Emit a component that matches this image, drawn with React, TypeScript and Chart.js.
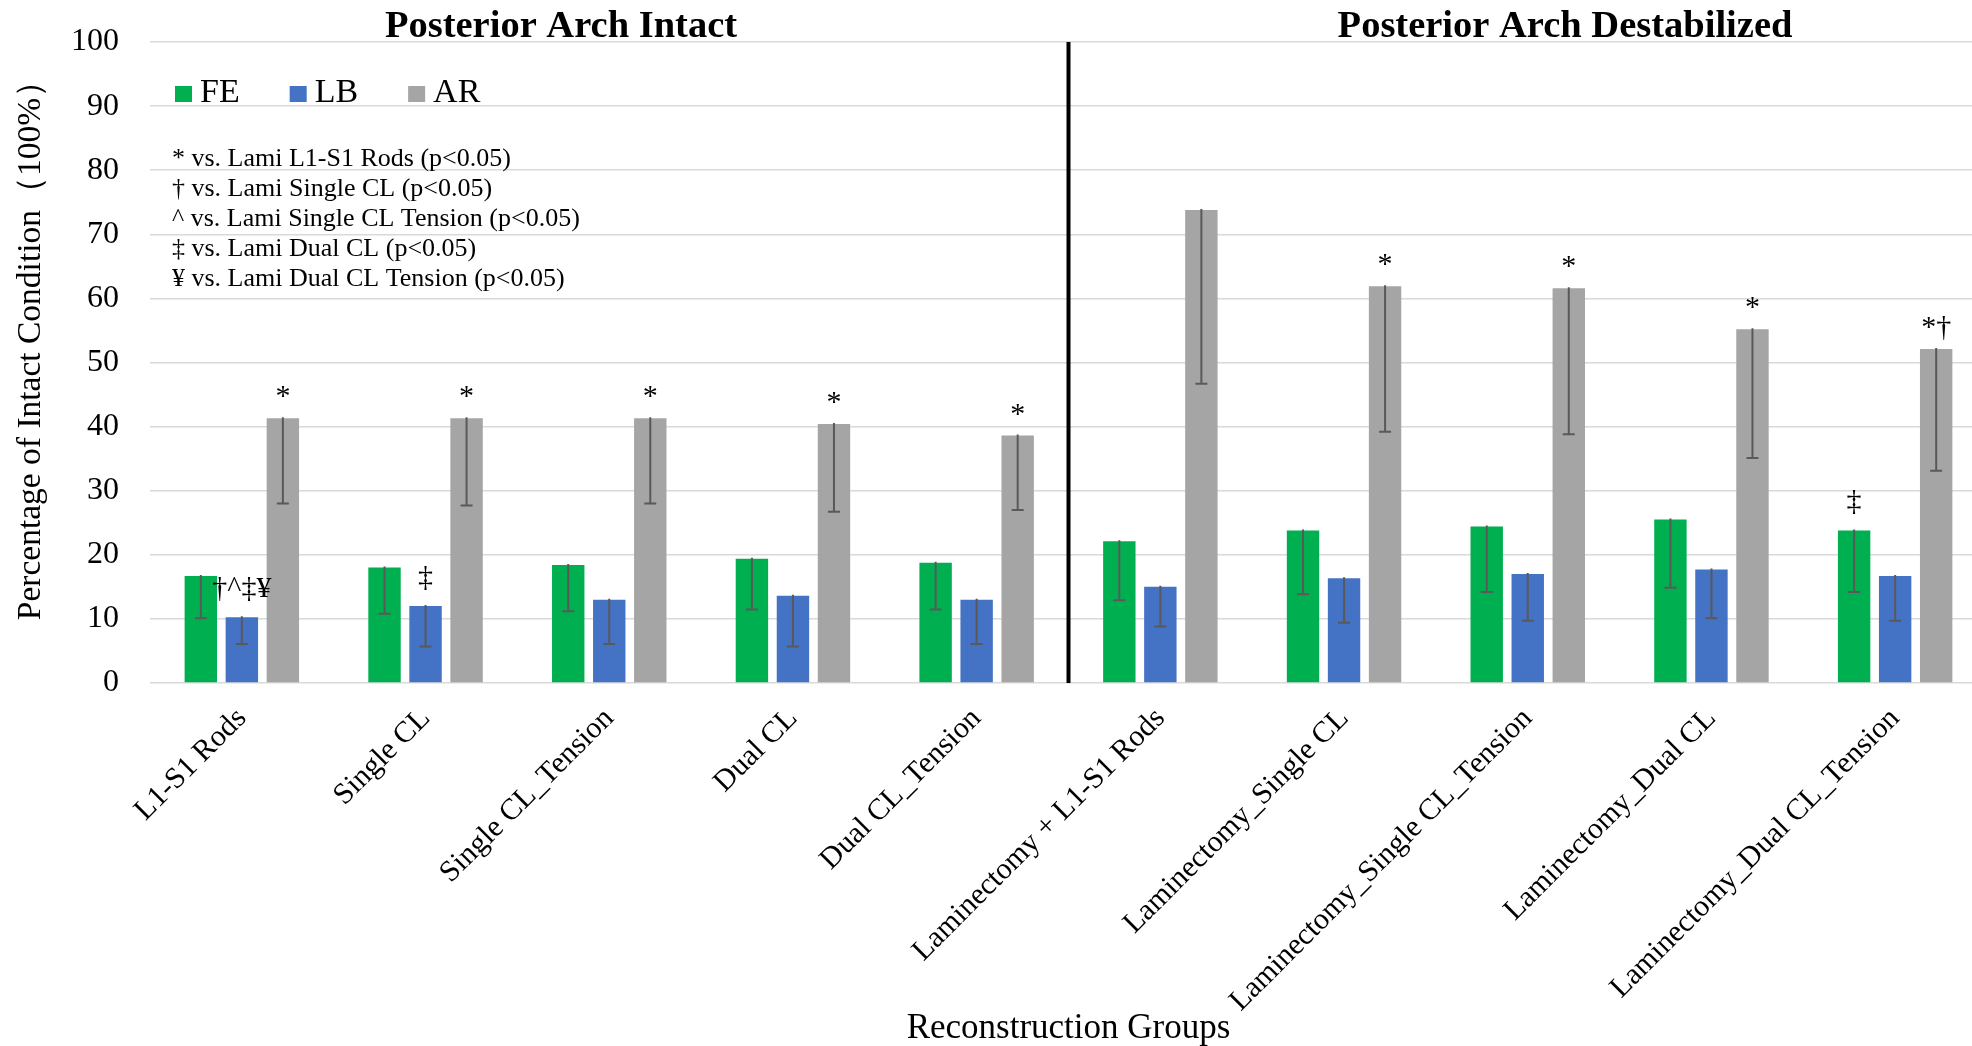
import React, { useEffect, useRef } from 'react';
import { Chart, registerables } from 'chart.js';

Chart.register(...registerables);

// ---------------- data ----------------
const CATEGORIES = [
  'L1-S1 Rods',
  'Single CL',
  'Single CL_Tension',
  'Dual CL',
  'Dual CL_Tension',
  'Laminectomy + L1-S1 Rods',
  'Laminectomy_Single CL',
  'Laminectomy_Single CL_Tension',
  'Laminectomy_Dual CL',
  'Laminectomy_Dual CL_Tension',
];

const SERIES_NAMES = ['FE', 'LB', 'AR'];

const FE_VALUES = [16.7, 18.0, 18.4, 19.4, 18.75, 22.1, 23.8, 24.4, 25.5, 23.8];
const FE_ERRORS = [6.6, 7.2, 7.2, 7.95, 7.3, 9.2, 9.95, 10.2, 10.65, 9.6];

const LB_VALUES = [10.25, 12.0, 13.0, 13.6, 13.0, 15.0, 16.35, 17.0, 17.7, 16.7];
const LB_ERRORS = [4.15, 6.3, 6.9, 7.9, 6.9, 6.2, 6.95, 7.3, 7.6, 7.0];

const AR_VALUES = [41.3, 41.3, 41.3, 40.4, 38.6, 73.8, 61.9, 61.6, 55.2, 52.1];
const AR_ERRORS = [13.3, 13.6, 13.3, 13.7, 11.6, 27.1, 22.7, 22.8, 20.1, 19.0];

const FE_MARKS = ['', '', '', '', '', '', '', '', '', '‡'];
const LB_MARKS = ['†^‡¥', '‡', '', '', '', '', '', '', '', ''];
const AR_MARKS = ['*', '*', '*', '*', '*', '', '*', '*', '*', '*†'];

const Y_MIN = 0;
const Y_MAX = 100;
const Y_STEP = 10;

const SIG_NOTES = [
  '* vs. Lami L1-S1 Rods (p<0.05)',
  '† vs. Lami Single CL (p<0.05)',
  '^ vs. Lami Single CL Tension (p<0.05)',
  '‡ vs. Lami Dual CL (p<0.05)',
  '¥ vs. Lami Dual CL Tension (p<0.05)',
];

const GROUP_TITLES = ['Posterior Arch Intact', 'Posterior Arch Destabilized'];
const Y_TITLE = 'Percentage of Intact Condition（100%）';
const X_TITLE = 'Reconstruction Groups';

const COLORS = ['#00B050', '#4472C4', '#A5A5A5'];
const SERIF = "'Liberation Serif', 'Times New Roman', serif";

const CANVAS_W = 2010;
const CANVAS_H = 1046;

const overlayPlugin = {
  id: 'overlay',
  afterDatasetsDraw(chart: any) {
    const ctx = chart.ctx;
    const yScale = chart.scales.y;
    const xScale = chart.scales.x;
    const errs = [FE_ERRORS, LB_ERRORS, AR_ERRORS];
    const marks = [FE_MARKS, LB_MARKS, AR_MARKS];
    ctx.save();
    // error bars (minus direction)
    chart.data.datasets.forEach((ds: any, di: number) => {
      const meta = chart.getDatasetMeta(di);
      meta.data.forEach((bar: any, i: number) => {
        const v = ds.data[i];
        const low = yScale.getPixelForValue(v - errs[di][i]);
        ctx.strokeStyle = '#595959';
        ctx.lineWidth = 2;
        ctx.beginPath();
        ctx.moveTo(bar.x, bar.y - 1);
        ctx.lineTo(bar.x, low);
        ctx.moveTo(bar.x - 6, low);
        ctx.lineTo(bar.x + 6, low);
        ctx.stroke();
      });
    });
    // significance marks
    ctx.fillStyle = '#000';
    ctx.font = `30px ${SERIF}`;
    ctx.textAlign = 'center';
    ctx.textBaseline = 'alphabetic';
    chart.data.datasets.forEach((ds: any, di: number) => {
      const meta = chart.getDatasetMeta(di);
      meta.data.forEach((bar: any, i: number) => {
        const t = marks[di][i];
        if (!t) return;
        const lift = t.startsWith('*') ? 13 : 20;
        ctx.fillText(t, bar.x, bar.y - lift);
      });
    });
    // divider between the two groups
    const xd = (xScale.getPixelForValue(4) + xScale.getPixelForValue(5)) / 2;
    ctx.strokeStyle = '#000';
    ctx.lineWidth = 4;
    ctx.beginPath();
    ctx.moveTo(xd, yScale.getPixelForValue(Y_MAX));
    ctx.lineTo(xd, yScale.getPixelForValue(Y_MIN));
    ctx.stroke();
    ctx.restore();
  },
  afterDraw(chart: any) {
    const ctx = chart.ctx;
    ctx.save();
    ctx.fillStyle = '#000';
    ctx.textBaseline = 'alphabetic';
    // group titles
    ctx.font = `bold 38.5px ${SERIF}`;
    ctx.textAlign = 'center';
    ctx.fillText(GROUP_TITLES[0], 561, 37);
    ctx.fillText(GROUP_TITLES[1], 1565, 37);
    // y axis title
    ctx.save();
    ctx.translate(31, 342);
    ctx.rotate(-Math.PI / 2);
    ctx.font = `33.5px ${SERIF}`;
    ctx.textAlign = 'center';
    ctx.textBaseline = 'middle';
    ctx.fillText(Y_TITLE, 0, 0);
    ctx.restore();
    // legend
    ctx.font = `34px ${SERIF}`;
    ctx.textAlign = 'left';
    let x = 175;
    SERIES_NAMES.forEach((name, i) => {
      ctx.fillStyle = COLORS[i];
      ctx.fillRect(x, 86, 17, 16);
      ctx.fillStyle = '#000';
      ctx.fillText(name, x + 25, 102);
      x += 25 + ctx.measureText(name).width + 50;
    });
    // significance notes
    ctx.font = `26px ${SERIF}`;
    SIG_NOTES.forEach((n, i) => {
      ctx.fillText(n, 172, 166 + i * 30);
    });
    ctx.restore();
  },
};

export default function App() {
  const ref = useRef<HTMLCanvasElement | null>(null);
  useEffect(() => {
    document.body.style.margin = '0';
    document.body.style.overflow = 'hidden';
    const canvas = ref.current;
    if (!canvas) return;
    const chart = new Chart(canvas, {
      type: 'bar',
      data: {
        labels: CATEGORIES,
        datasets: [
          { label: SERIES_NAMES[0], data: FE_VALUES, backgroundColor: COLORS[0] },
          { label: SERIES_NAMES[1], data: LB_VALUES, backgroundColor: COLORS[1] },
          { label: SERIES_NAMES[2], data: AR_VALUES, backgroundColor: COLORS[2] },
        ],
      },
      options: {
        responsive: false,
        animation: false,
        devicePixelRatio: 1,
        layout: { padding: { top: 42, right: CANVAS_W - 1987, left: 0, bottom: 0 } },
        datasets: { bar: { categoryPercentage: 0.67, barPercentage: 0.79 } },
        plugins: {
          legend: { display: false },
          tooltip: { enabled: false },
          title: { display: false },
        },
        scales: {
          x: {
            grid: { display: false, drawTicks: false },
            border: { display: false },
            ticks: {
              autoSkip: false,
              maxRotation: 45,
              minRotation: 45,
              padding: 18,
              color: '#000',
              font: { family: SERIF, size: 30 },
            },
            title: {
              display: true,
              text: X_TITLE,
              color: '#000',
              padding: 0,
              font: { family: SERIF, size: 35, lineHeight: 1 },
            },
            afterFit: (s: any) => {
              s.height = CANVAS_H - 683;
            },
          },
          y: {
            min: Y_MIN,
            max: Y_MAX,
            grid: { color: '#D9D9D9', lineWidth: 1.5, drawTicks: false },
            border: { display: false },
            ticks: {
              stepSize: Y_STEP,
              padding: 31,
              color: '#000',
              font: { family: SERIF, size: 32 },
            },
            title: { display: false },
            afterFit: (s: any) => {
              s.width = 150;
              s.paddingTop = 0;
              s.paddingBottom = 0;
            },
          },
        },
      },
      plugins: [overlayPlugin],
    });
    return () => chart.destroy();
  }, []);
  return (
    <div
      style={{
        position: 'absolute',
        left: 0,
        top: 0,
        width: 1972,
        height: CANVAS_H,
        overflow: 'hidden',
        background: '#fff',
      }}
    >
      <canvas ref={ref} width={CANVAS_W} height={CANVAS_H} style={{ width: CANVAS_W, height: CANVAS_H, display: 'block' }} />
    </div>
  );
}
